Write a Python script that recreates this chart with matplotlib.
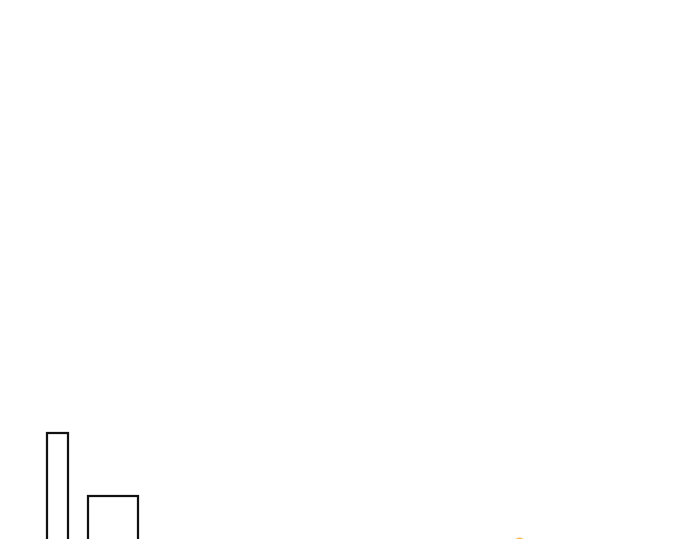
import matplotlib
matplotlib.use("Agg")
import matplotlib.pyplot as plt

# 잘린 화면: 막대 두 개의 윗부분과 주황 점 하나만 보인다
bar_centers = [57.5, 113]
bar_widths = [21, 50]
bar_values = [166, 103]
point_x = [519]
point_y = [56]

fig = plt.figure(figsize=(6.9, 5.39), dpi=100)
ax = fig.add_axes([0, 0, 1, 1])
ax.set_axis_off()
ax.bar(bar_centers, bar_values, width=bar_widths, facecolor="white",
       edgecolor="#111111", linewidth=1.6)
ax.scatter(point_x, point_y, s=60, color="#f5a623", alpha=0.6, zorder=3)
ax.set_xlim(0, 690)
ax.set_ylim(60, 599)
fig.savefig("out.png", dpi=100, facecolor="white")
